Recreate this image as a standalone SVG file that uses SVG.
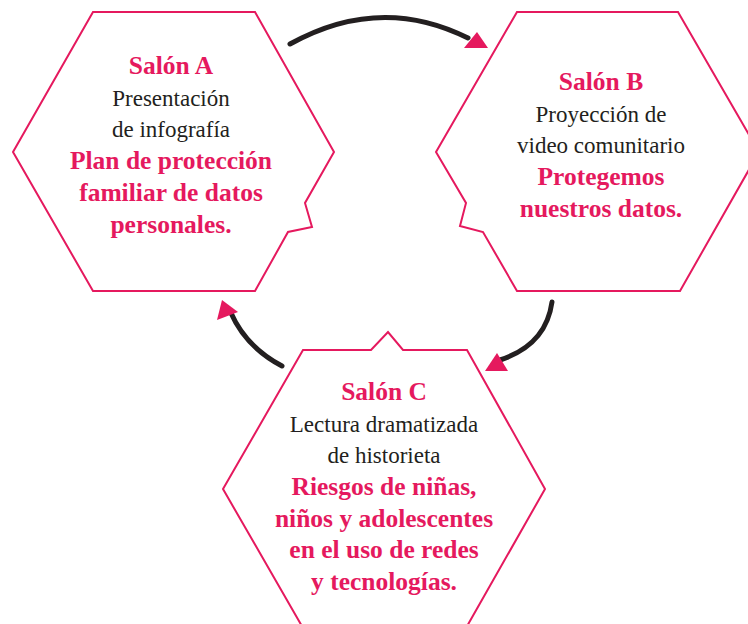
<svg xmlns="http://www.w3.org/2000/svg" width="748" height="624" viewBox="0 0 748 624">
<style>
.hex{fill:#fff;stroke:#E5195E;stroke-width:2;stroke-linejoin:miter}
.t{font-family:'Liberation Serif','Times New Roman','DejaVu Serif',serif;font-size:23px;text-anchor:middle}
.b{fill:#E5195E;font-weight:bold;font-size:25.5px}
.r{fill:#231F20}
.con{fill:none;stroke:#231F20;stroke-width:5;stroke-linecap:round}
.head{fill:#E5195E}
</style>
<rect width="748" height="624" fill="#fff"/>
<g id="salon-a">
<polygon class="hex" points="93,12 255,12 334,152 305,203 312,227 288,232 255,291 93,291 13,152"/>
<text class="t b" x="171" y="74">Salón A</text>
<text class="t r" x="171" y="106">Presentación</text>
<text class="t r" x="171" y="137">de infografía</text>
<text class="t b" x="171" y="169">Plan de protección</text>
<text class="t b" x="171" y="201">familiar de datos</text>
<text class="t b" x="171" y="233">personales.</text>
</g>
<g id="salon-b">
<polygon class="hex" points="517,12 678,12 759,152 680,291 517,291 483,232 460,226 466,203 436,152"/>
<text class="t b" x="601" y="90">Salón B</text>
<text class="t r" x="601" y="122">Proyección de</text>
<text class="t r" x="601" y="153">video comunitario</text>
<text class="t b" x="601" y="185">Protegemos</text>
<text class="t b" x="601" y="217">nuestros datos.</text>
</g>
<g id="salon-c">
<polygon class="hex" points="303,350 371,350 388,332 403,350 467,350 545,489 466,628 303,628 223,489"/>
<text class="t b" x="384" y="400">Salón C</text>
<text class="t r" x="384" y="432">Lectura dramatizada</text>
<text class="t r" x="384" y="463">de historieta</text>
<text class="t b" x="384" y="495">Riesgos de niñas,</text>
<text class="t b" x="384" y="527">niños y adolescentes</text>
<text class="t b" x="384" y="558">en el uso de redes</text>
<text class="t b" x="384" y="590">y tecnologías.</text>
</g>
<g id="connectors">
<path class="con" d="M290,44 Q380,-6 468,38"/>
<polygon class="head" points="477,32 464,48 488,48"/>
<path class="con" d="M552,302 Q546,345 500,360"/>
<polygon class="head" points="497,353 485,371 508,371"/>
<path class="con" d="M282,366 Q246,347 231,313"/>
<polygon class="head" points="222,300 217,320 238,312"/>
</g>
</svg>
